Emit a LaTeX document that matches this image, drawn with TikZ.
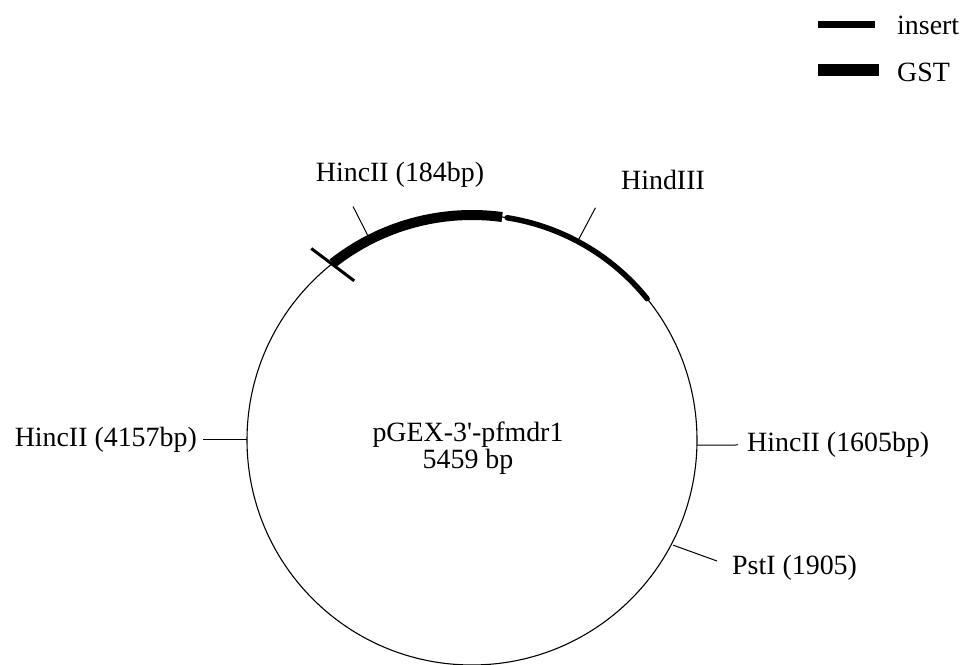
\documentclass[tikz,border=0pt]{standalone}
\usepackage{fontspec}
\setmainfont{Liberation Serif}[Ligatures=TeXOff]
\usetikzlibrary{calc}
\begin{document}
\begin{tikzpicture}[x=1bp,y=1bp,
  lbl/.style={font=\fontsize{28}{32}\selectfont, inner sep=0pt},
  tickline/.style={line width=1bp},
  insertline/.style={line width=5.5bp},
  gstline/.style={line width=10bp}]
\useasboundingbox (0,0) rectangle (966,665);
\coordinate (C) at (472,225);
% backbone
\draw[line width=1.1bp] (C) circle[radius=225];
% GST and insert arcs
\draw[gstline] ($(C)+(128.3:225)$) arc[start angle=128.3,end angle=82.3,radius=225];
\draw[insertline,line cap=round] ($(C)+(81:225)$) arc[start angle=81,end angle=38.9,radius=225];
% cross tick at start of GST
\draw[line width=3bp] ($(C)+(126.5:198)$) -- ($(C)+(130:250)$);
% site ticks
\coordinate (t184a) at ($(C)+(117:226)$);
\coordinate (t184b) at ($(C)+(117:262)$);
\coordinate (thinda) at ($(C)+(62:226)$);
\coordinate (thindb) at ($(C)+(62:263)$);
\coordinate (t4157a) at ($(C)+(180:225)$);
\coordinate (t4157b) at (203,225);
\coordinate (t1605a) at ($(C)+(-1.3:225)$);
\coordinate (t1605b) at (738,220);
\coordinate (tpsta) at ($(C)+(-27.6:227)$);
\coordinate (tpstb) at (717,104);
\draw[tickline] (t184a) -- (t184b);
\draw[tickline] (thinda) -- (thindb);
\draw[tickline] (t4157a) -- (t4157b);
\draw[tickline] (t1605a) -- (t1605b);
\draw[tickline] (tpsta) -- (tpstb);
% labels
\node[lbl] (l184) at (400,490) {HincII (184bp)};
\node[lbl] (lhind) at (663,485) {HindIII};
\node[lbl,anchor=east] (l4157) at (197,225) {HincII (4157bp)};
\node[lbl,anchor=west] (l1605) at (747,220) {HincII (1605bp)};
\node[lbl,anchor=west] (lpst) at (732,97) {PstI (1905)};
\node[lbl] (name) at (468,230) {pGEX-3'-pfmdr1};
\node[lbl] (size) at (468,203) {5459 bp};
% legend
\coordinate (legIa) at (818,640);
\coordinate (legIb) at (875,640);
\coordinate (legGa) at (818,595);
\coordinate (legGb) at (879,595);
\draw[line width=7bp] (legIa) -- (legIb);
\draw[line width=12bp] (legGa) -- (legGb);
\node[lbl,anchor=west] (linsert) at (897,640) {insert};
\node[lbl,anchor=west] (lgst) at (897,593) {GST};
\end{tikzpicture}
\end{document}
